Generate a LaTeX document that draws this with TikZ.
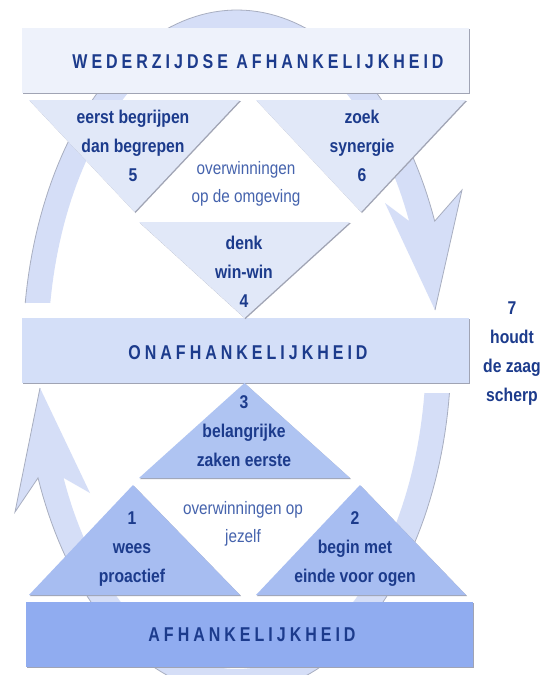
\documentclass[tikz,border=0pt]{standalone}
\usepackage{fontspec}
\setmainfont{Liberation Sans}
\newfontfamily\narfont{Liberation Sans}[FakeStretch=0.85]
\newfontfamily\capsfont{Liberation Sans}[FakeStretch=0.8,LetterSpace=20]
\usetikzlibrary{shadows}
\definecolor{navy}{HTML}{1C3B8C}
\definecolor{lightnavy}{HTML}{4563AD}
\definecolor{arcfill}{HTML}{D5DEF7}
\definecolor{arcedge}{HTML}{A8AEC0}
\definecolor{topbar}{HTML}{EEF2FB}
\definecolor{toptri}{HTML}{E1E8F8}
\definecolor{midbar}{HTML}{D4DFF8}
\definecolor{tribright}{HTML}{AFC4F2}
\definecolor{trilow}{HTML}{A7BDF1}
\definecolor{lowbar}{HTML}{90ACF0}
\definecolor{shade}{HTML}{A0A4B4}
\begin{document}
\begin{tikzpicture}[x=1pt,y=-1pt,
  barbox/.style={rectangle,draw=none,minimum width=447pt,minimum height=65pt,inner sep=0pt,
     drop shadow={shadow xshift=1.2pt,shadow yshift=-1.2pt,fill=shade,opacity=1}},
  capstext/.style={font=\capsfont\bfseries\fontsize{20}{24}\selectfont,text=navy,inner sep=0pt},
  tritext/.style={font=\narfont\bfseries\fontsize{18.5}{29}\selectfont,text=navy,align=center,inner sep=0pt},
  lighttext/.style={font=\narfont\fontsize{18}{28}\selectfont,text=lightnavy,align=center,inner sep=0pt},
  trishape/.style={drop shadow={shadow xshift=1pt,shadow yshift=-1pt,fill=shade,opacity=1}},
  edgeline/.style={draw=arcedge,line width=0.8pt}
]
\useasboundingbox (0,0) rectangle (547,675);
\fill[white] (0,0) rectangle (547,675);

% circular arrows
\fill[arcfill] plot[domain=-171.76:-22.5,samples=90] ({237+214*cos(\x)},{352+342*sin(\x)})
  -- (462,190) -- (435,310) -- (385,203)
  -- plot[domain=-24.4:-171.1,samples=90] ({237+189*cos(\x)},{352+317*sin(\x)}) -- cycle;
\draw[edgeline] plot[domain=-171.76:-22.5,samples=90] ({237+214*cos(\x)},{352+342*sin(\x)})
  -- (462,190) -- (435,310);
\fill[arcfill] plot[domain=6.89:158.4,samples=90] ({237+214*cos(\x)},{352+342*sin(\x)})
  -- (15,512) -- (40,388) -- (90,493)
  -- plot[domain=156.6:7.43,samples=90] ({237+189*cos(\x)},{352+317*sin(\x)}) -- cycle;
\draw[edgeline] plot[domain=6.89:158.4,samples=90] ({237+214*cos(\x)},{352+342*sin(\x)})
  -- (15,512) -- (40,388);

% bars
\node[barbox,fill=topbar] (top) at (245.5,60.5) {};
\node[barbox,fill=midbar] (mid) at (245.5,350.5) {};
\node[barbox,fill=lowbar] (low) at (249.5,634.5) {};

% upper triangles
\fill[toptri,trishape] (29,100) -- (240,100) -- (134.5,212) -- cycle;
\fill[toptri,trishape] (256,100) -- (466,100) -- (361,212) -- cycle;
\fill[toptri,trishape] (139,222) -- (350,222) -- (244.5,318) -- cycle;

% lower triangles
\fill[tribright,trishape] (244.5,383) -- (350,478) -- (139,478) -- cycle;
\fill[trilow,trishape] (133,485) -- (240,595) -- (29,595) -- cycle;
\fill[trilow,trishape] (360,485) -- (466,595) -- (256,595) -- cycle;

% bar labels
\node[capstext] (l1) at (258,62) {WEDERZIJDSE AFHANKELIJKHEID};
\node[capstext] (l2) at (248,353) {ONAFHANKELIJKHEID};
\node[capstext] (l3) at (252,635) {AFHANKELIJKHEID};

% triangle labels
\node[tritext] (t5) at (133,145.5) {eerst begrijpen\\dan begrepen\\5};
\node[tritext] (t6) at (362,145.5) {zoek\\synergie\\6};
\node[tritext] (t4) at (244,271.5) {denk\\win-win\\4};
\node[tritext] (t3) at (244,431) {3\\belangrijke\\zaken eerste};
\node[tritext] (t1) at (132,549) {1\\wees\\proactief};
\node[tritext] (t2) at (355,549) {2\\begin met\\einde voor ogen};
\node[tritext] (t7) at (512,353.5) {7\\houdt\\de zaag\\scherp};
\node[lighttext] (o1) at (246,184.3) {overwinningen\\op de omgeving};
\node[lighttext] (o2) at (243,524) {overwinningen op\\jezelf};
\end{tikzpicture}
\end{document}
